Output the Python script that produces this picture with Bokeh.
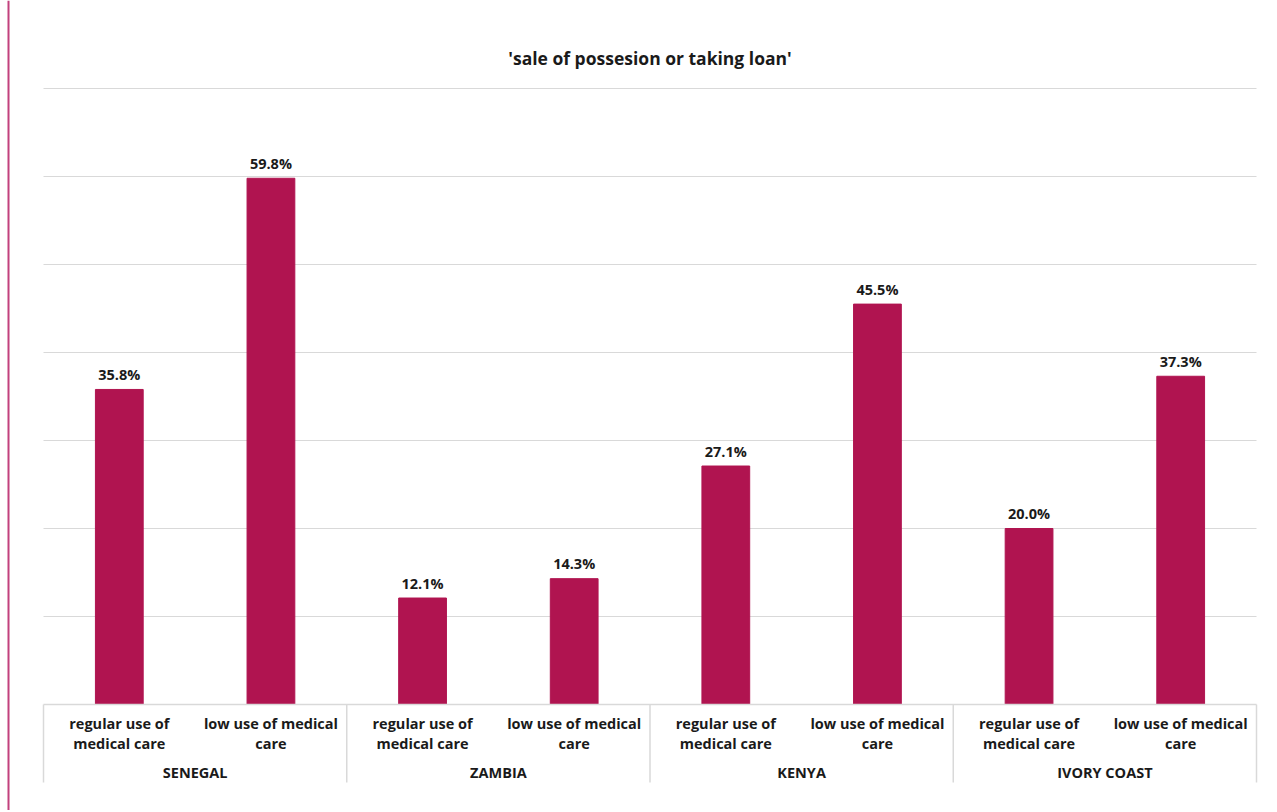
from bokeh.plotting import figure
from bokeh.models import Range1d, ColumnDataSource
from bokeh.core.properties import value
from bokeh.embed import file_html
from bokeh.resources import INLINE

title_text = "'sale of possesion or taking loan'"
countries = ["SENEGAL", "ZAMBIA", "KENYA", "IVORY COAST"]
usage = ["regular use of\nmedical care", "low use of medical\ncare"]
values = [35.8, 59.8, 12.1, 14.3, 27.1, 45.5, 20.0, 37.3]
grid_ticks = [10, 20, 30, 40, 50, 60, 70]

BAR = "#B01450"
GRID = "#D9D9D9"
TXT = "#1a1a1a"
FONT = value("Open Sans")

W, H = 1275, 810
PX_X = 151.625      # px per category slot
PX_Y = 8.8          # px per percent
BASE = 704          # px of zero line from top
x0 = -43 / PX_X
y_top = BASE / PX_Y
y_bot = (BASE - H) / PX_Y


def py(px):
    return (BASE - px) / PX_Y


n_sub = len(usage)
n_cat = len(countries) * n_sub

p = figure(width=W, height=H, output_backend="svg", toolbar_location=None,
           x_range=Range1d(x0, x0 + W / PX_X), y_range=Range1d(y_bot, y_top),
           min_border=0, min_border_left=0, min_border_right=0,
           min_border_top=0, min_border_bottom=0)
p.axis.visible = False
p.grid.visible = False
p.outline_line_color = None
p.background_fill_color = "white"
p.border_fill_color = "white"

# gridlines
p.segment(x0=[0] * len(grid_ticks), x1=[n_cat] * len(grid_ticks), y0=grid_ticks, y1=grid_ticks,
          line_color=GRID, line_width=1)

# bars
xs = [i + 0.5 for i in range(n_cat)]
labels = [f"{v:.1f}%" for v in values]
src = ColumnDataSource(dict(x=xs, top=values, label=labels))
p.vbar(x="x", top="top", bottom=0, width=0.315, source=src, fill_color=BAR, line_color=BAR)
p.text(x="x", y="top", text="label", source=src, text_align="center", text_baseline="middle",
       y_offset=-15, text_font=FONT, text_font_style="bold", text_font_size="14.5px", text_color=TXT)

# category box
p.segment(x0=[0], x1=[n_cat], y0=[0], y1=[0], line_color=GRID, line_width=1.5)
seps = [g * n_sub for g in range(len(countries) + 1)]
p.segment(x0=seps, x1=seps, y0=[0] * len(seps), y1=[py(782)] * len(seps), line_color=GRID, line_width=1.5)

line_px = [723, 742.5]
for li, ypx in enumerate(line_px):
    t = [usage[i % n_sub].split("\n")[li] for i in range(n_cat)]
    p.text(x=xs, y=[py(ypx)] * n_cat, text=t, text_align="center", text_baseline="middle",
           text_font=FONT, text_font_style="bold", text_font_size="14.5px", text_color=TXT)

grp_x = [g * n_sub + n_sub / 2 for g in range(len(countries))]
p.text(x=grp_x, y=[py(772)] * len(countries), text=countries, text_align="center",
       text_baseline="middle", text_font=FONT, text_font_style="bold", text_font_size="14.5px",
       text_color=TXT)

# title
p.text(x=[n_cat / 2], y=[py(57)], text=[title_text], text_align="center", text_baseline="middle",
       text_font=FONT, text_font_style="bold", text_font_size="17.5px", text_color=TXT)

# left border line
lx = x0 + 8 / PX_X
p.segment(x0=[lx], x1=[lx], y0=[y_bot], y1=[y_top], line_color="#C2417D", line_width=2)

open("out.html", "w").write(file_html(p, INLINE))
